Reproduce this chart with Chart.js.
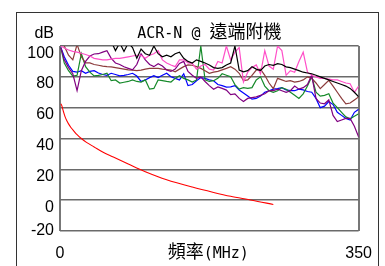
<!DOCTYPE html>
<html>
<head>
<meta charset="utf-8">
<script src="https://cdn.jsdelivr.net/npm/chart.js@4.4.0/dist/chart.umd.min.js"></script>
<style>
html,body{margin:0;padding:0;background:#fff;}
canvas{display:block;}
</style>
</head>
<body>
<canvas id="c" width="385" height="266"></canvas>
<script>
// ---- data ----
const freq = [1,5,10,15,20,25,30,35,40,45,50,55,60,65,70,75,80,85,90,95,100,105,110,115,120,125,130,135,140,145,150,155,160,165,170,175,180,185,190,195,200,205,210,215,220,225,230,235,240,245,250,255,260,265,270,275,280,285,290,295,300,305,310,315,320,325,330,335,340,345,350];

const blackSeries = [104,103,105,102,104,103,105,102,104,103, 102,104,103,97,102,96.5,102,99,92,98, 95,94,100,95,93,94,93,95,96,92, 90,89,91,90,89,87.7,86,85.5,86,87.7, 89,100,84.4,83.3,84,86.6,85,84,87,88, 87.5,88.5,88,86.5,86,85,84,83,82.5,82, 81,80,79,78,77,76,75,74,72.5,70,67];
const pinkSeries = [100,98.7,97.4,96.5,96,95.3,94.5,93.5,92,91.5, 91,91,91.5,92,92,92.5,93,93.5,94,94, 92,94,95,97,91,89,87.7,86.6,91,91, 89,88.7,85,87,88,85,84.4,90,89,100, 91,96,99,76.6,83,86,87.7,82,97,87, 85,100,97,81,84,83,90,96,83,81, 80,79,79,78.5,78,78,77,76,75.5,70,74];
const purpleSeries = [99,91,86,82,71,84,90,93.5,94.8,95, 96,97,92,89,88,86.5,85.5,84.5,88,95, 91,88,86.6,88.5,87,84.4,83.5,85,88.7,90, 83.5,81,79,80,77,74.3,72,73.5,72.5,71.4, 68.5,69,66,64,66,66.5,67,68,69,71, 71,72,71,70,71,74,72,73,75,81, 66,63,62.5,65,55,51,52,53,53,48,41];
const brownSeries = [104,100,94,91,101,93,89,89,88,87.5, 87,86.6,86.5,86,85.5,85,84.5,84.4,84,84.4, 85,85.5,85.5,85.5,85,84.7,84.4,83.3,85,86.6, 87.7,87.5,86.6,85.5,84,82.3,83,83.5,84.5,85.5, 86.6,85,82.3,77.5,78,81,84.4,85,81,76, 72.3,79,78,77,77.5,76.6,77,78,80,79, 76,72.3,75,77.7,74,70,66,62.5,63,65,67];
const greenSeries = [99,89,84,80.5,81,95,86.6,83,80.6,81, 81.5,82.3,77.5,78,76,76.5,77,78,77,76.6, 78,72,72.5,78,77.5,77,76.6,79,80.7,79, 78,76.6,78,100,78,77,77.5,79,82,81, 80,75,72,73,72.5,73,78,80,74,71, 70,71,73,72,70,68,66,69,74,80, 70,67.5,68,69,63,60,57,54,52.8,54.5,56];
const blueSeries = [99,93,87.5,83.5,83,84,82.3,83.5,84,82.5, 81.5,81,82.3,81.5,80.6,81,81.5,82.3,80.5,77, 78,79.5,80.7,79.5,81,82.3,80,79,78,82, 74.3,75,77.5,79.5,79,78,77.5,75,74.3,73.3, 73.5,74.3,71.4,69.5,67.5,65.5,66,67.5,70,71, 72,72.3,73,71.5,71,71,72,71.5,70.5,70, 66,60,61,64,62,57,55,53,52,57,59];

const limitFreq = [1,2,3,4,6,8,10,13,16,20,25,31,40,50,62.5,80,100,125,155,180,200,225,250];
const limitValues = [62.5,61.5,59.5,57.5,54,51.5,49.5,47,45,42.5,40,37.5,34.5,31.2,28,23.5,18.5,13.3,8.5,5,2.5,0,-2.8];

const yTicks = [-20,0,20,40,60,80,100];
const xTicks = [0,350];
const chartTitleLatin = 'ACR-N @ ';
const chartTitleCJK = '遠端附機';
const xTitleCJK = '頻率';
const xTitleLatin = '(MHz)';
const yUnit = 'dB';

// ---- build ----
const pts = (xs, ys) => xs.map((x, i) => ({x: x, y: ys[i]}));
const series = [
  {data: blackSeries, color: '#000000'},
  {data: pinkSeries, color: '#ff4fc8'},
  {data: purpleSeries, color: '#800080'},
  {data: brownSeries, color: '#8c3c3c'},
  {data: greenSeries, color: '#168a2a'},
  {data: blueSeries, color: '#0000ff'}
];
const datasets = series.map(s => ({
  data: pts(freq, s.data),
  borderColor: s.color,
  borderWidth: 1.2,
  pointRadius: 0,
  tension: 0,
  fill: false
}));
datasets.push({
  data: pts(limitFreq, limitValues),
  borderColor: '#ff0000',
  borderWidth: 1.1,
  pointRadius: 0,
  tension: 0.3,
  fill: false
});

const LATIN = '"DejaVu Sans Mono", monospace';
const CJK = '"Noto Sans CJK TC", "Noto Sans CJK JP", sans-serif';

function drawRuns(c, runs, cx, baseY) {
  let total = 0;
  runs.forEach(r => { c.font = r.f; r.w = c.measureText(r.t).width; total += r.w; });
  let x = cx - total / 2;
  c.textAlign = 'left';
  c.textBaseline = 'alphabetic';
  runs.forEach(r => { c.font = r.f; c.fillText(r.t, x, baseY); x += r.w; });
}

const decor = {
  id: 'decor',
  beforeDraw(chart) {
    const c = chart.ctx;
    c.save();
    c.fillStyle = '#fff';
    c.fillRect(0, 0, chart.width, chart.height);
    c.restore();
  },
  afterDraw(chart) {
    const c = chart.ctx;
    const a = chart.chartArea;
    c.save();
    c.fillStyle = '#000';
    c.font = '16px "Liberation Sans", Arial, sans-serif';
    c.textAlign = 'right';
    c.textBaseline = 'alphabetic';
    c.fillText(yUnit, a.left - 6, 38);
    const cx = (a.left + a.right) / 2;
    drawRuns(c, [{t: chartTitleLatin, f: '15px ' + LATIN}, {t: chartTitleCJK, f: '18px ' + CJK}], cx, 38);
    drawRuns(c, [{t: xTitleCJK, f: '18px ' + CJK}, {t: xTitleLatin, f: '15px ' + LATIN}], cx - 1, 258);
    c.strokeStyle = '#333';
    c.lineWidth = 1;
    c.strokeRect(16.5, 12.5, 362, 300);
    c.restore();
  }
};

new Chart(document.getElementById('c'), {
  type: 'line',
  data: {datasets: datasets},
  plugins: [decor],
  options: {
    responsive: false,
    devicePixelRatio: 1,
    animation: false,
    layout: {padding: {top: 46, left: 0, right: 26, bottom: 0}},
    plugins: {legend: {display: false}, title: {display: false}, tooltip: {enabled: false}},
    scales: {
      x: {
        type: 'linear',
        min: 0, max: 350,
        afterBuildTicks: s => { s.ticks = xTicks.map(v => ({value: v})); },
        afterFit: s => { s.height = 35; },
        grid: {display: true, drawTicks: false, color: '#777', lineWidth: 2},
        border: {display: false},
        ticks: {padding: 13, color: '#000', maxRotation: 0, autoSkip: false,
                font: {family: '"Liberation Sans", Arial, sans-serif', size: 16}}
      },
      y: {
        min: -20, max: 100,
        afterBuildTicks: s => { s.ticks = yTicks.map(v => ({value: v})); },
        afterFit: s => { s.width = 60; },
        grid: {drawTicks: false, color: '#6a6a6a', lineWidth: 1.5},
        border: {display: false},
        ticks: {
          padding: 6, color: '#000', autoSkip: false,
          font: {family: '"Liberation Sans", Arial, sans-serif', size: 16, lineHeight: 0.9},
          callback: v => v === -20 ? String(v) : ['', String(v)]
        }
      }
    }
  }
});
</script>
</body>
</html>
